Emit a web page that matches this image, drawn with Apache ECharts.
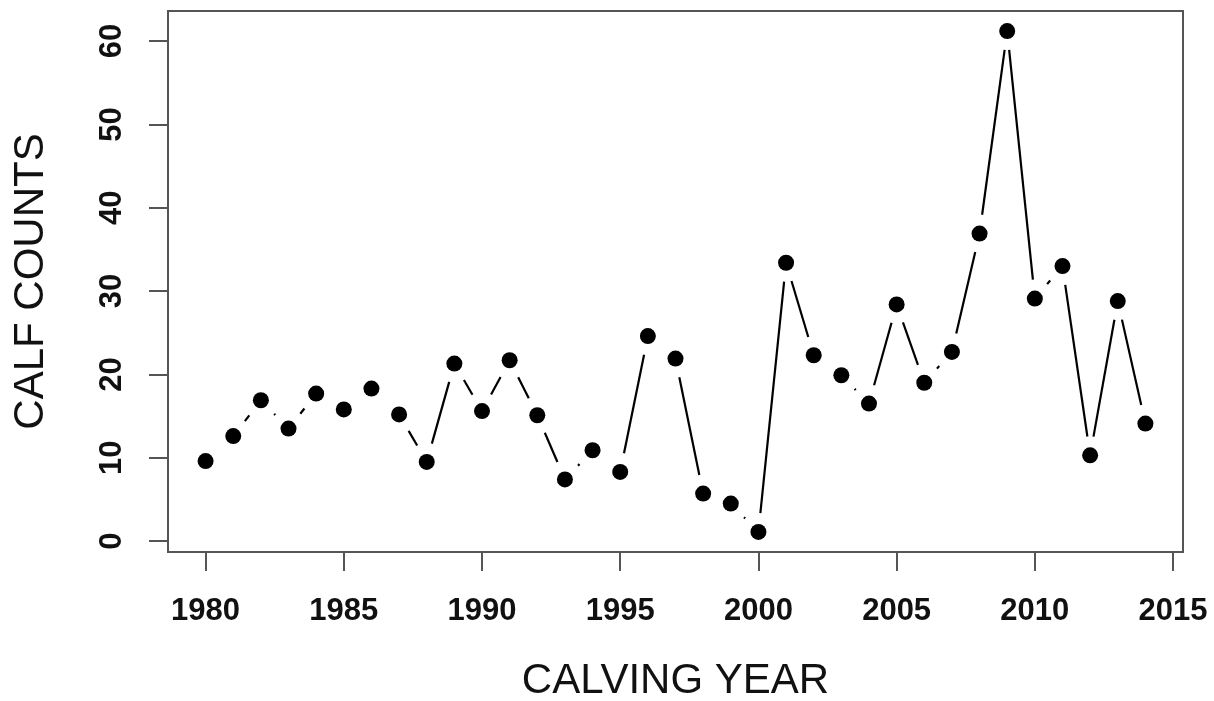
<!DOCTYPE html>
<html>
<head>
<meta charset="utf-8">
<script src="https://cdn.jsdelivr.net/npm/echarts@6/dist/echarts.min.js"></script>
<style>
html,body{margin:0;padding:0;background:#fff;}
#chart{width:1214px;height:701px;}
</style>
</head>
<body>
<div id="chart"></div>
<script>
// Data
var years = [1980,1981,1982,1983,1984,1985,1986,1987,1988,1989,1990,1991,1992,1993,1994,1995,1996,1997,1998,1999,2000,2001,2002,2003,2004,2005,2006,2007,2008,2009,2010,2011,2012,2013,2014];
var counts = [9.6,12.6,16.9,13.5,17.7,15.8,18.3,15.2,9.5,21.3,15.6,21.7,15.1,7.4,10.9,8.3,24.6,21.9,5.7,4.5,1.1,33.4,22.3,19.9,16.5,28.4,19.0,22.7,36.9,61.2,29.1,33.0,10.3,28.8,14.1];
var xTicks = [1980,1985,1990,1995,2000,2005,2010,2015];
var yTicks = [0,10,20,30,40,50,60];
var xTitle = 'CALVING YEAR';
var yTitle = 'CALF COUNTS';

var FONT = "'Liberation Sans', Arial, Helvetica, sans-serif";
var GAP = 19;

var pts = years.map(function(y, i){ return [y, counts[i]]; });
var segs = years.slice(0, -1).map(function(y, i){ return [y, counts[i], years[i+1], counts[i+1]]; });

// R-style 4% range extension
var xMinD = Math.min.apply(null, years), xMaxD = Math.max.apply(null, years);
var yMinD = Math.min.apply(null, counts), yMaxD = Math.max.apply(null, counts);
var xPad = (xMaxD - xMinD) * 0.04, yPad = (yMaxD - yMinD) * 0.04;

var chart = echarts.init(document.getElementById('chart'), null, {renderer: 'canvas'});
chart.setOption({
  animation: false,
  backgroundColor: '#ffffff',
  grid: {left: 168, right: 31, top: 11, bottom: 149, containLabel: false, outerBoundsMode: 'none',
    show: true, borderColor: '#555', borderWidth: 2, backgroundColor: 'transparent'},
  xAxis: {
    type: 'value', min: xMinD - xPad, max: xMaxD + xPad,
    splitLine: {show: false},
    axisLine: {show: true, onZero: false, lineStyle: {color: '#555', width: 2}},
    axisTick: {show: true, length: 19, inside: false, customValues: xTicks, lineStyle: {color: '#555', width: 2}},
    axisLabel: {show: true, customValues: xTicks, margin: 44, fontSize: 31, fontWeight: 'bold', color: '#111', fontFamily: FONT,
      formatter: function(v){ return String(Math.round(v)); }},
    name: xTitle, nameLocation: 'middle', nameGap: 108,
    nameTextStyle: {fontSize: 42, color: '#111', fontFamily: FONT}
  },
  yAxis: {
    type: 'value', min: yMinD - yPad, max: yMaxD + yPad,
    splitLine: {show: false},
    axisLine: {show: true, onZero: false, lineStyle: {color: '#555', width: 2}},
    axisTick: {show: true, length: 19, inside: false, customValues: yTicks, lineStyle: {color: '#555', width: 2}},
    axisLabel: {show: true, customValues: yTicks, rotate: 90, margin: 40, fontSize: 31, fontWeight: 'bold', color: '#111', fontFamily: FONT,
      formatter: function(v){ return String(Math.round(v)); }},
    name: yTitle, nameLocation: 'middle', nameGap: 116, nameRotate: 90,
    nameTextStyle: {fontSize: 42, color: '#111', fontFamily: FONT}
  },
  series: [
    {
      type: 'custom',
      data: segs,
      renderItem: function(params, api){
        var a = api.coord([api.value(0), api.value(1)]);
        var b = api.coord([api.value(2), api.value(3)]);
        var dx = b[0] - a[0], dy = b[1] - a[1];
        var d = Math.sqrt(dx*dx + dy*dy);
        if (d <= 2*GAP) return null;
        var ux = dx/d, uy = dy/d;
        return {
          type: 'line',
          shape: {x1: a[0] + ux*GAP, y1: a[1] + uy*GAP, x2: b[0] - ux*GAP, y2: b[1] - uy*GAP},
          style: {stroke: '#000', lineWidth: 2.2}
        };
      },
      silent: true,
      z: 2
    },
    {
      type: 'scatter',
      data: pts,
      symbol: 'circle',
      symbolSize: 16,
      itemStyle: {color: '#000', opacity: 1},
      silent: true,
      z: 3
    }
  ]
});
</script>
</body>
</html>
